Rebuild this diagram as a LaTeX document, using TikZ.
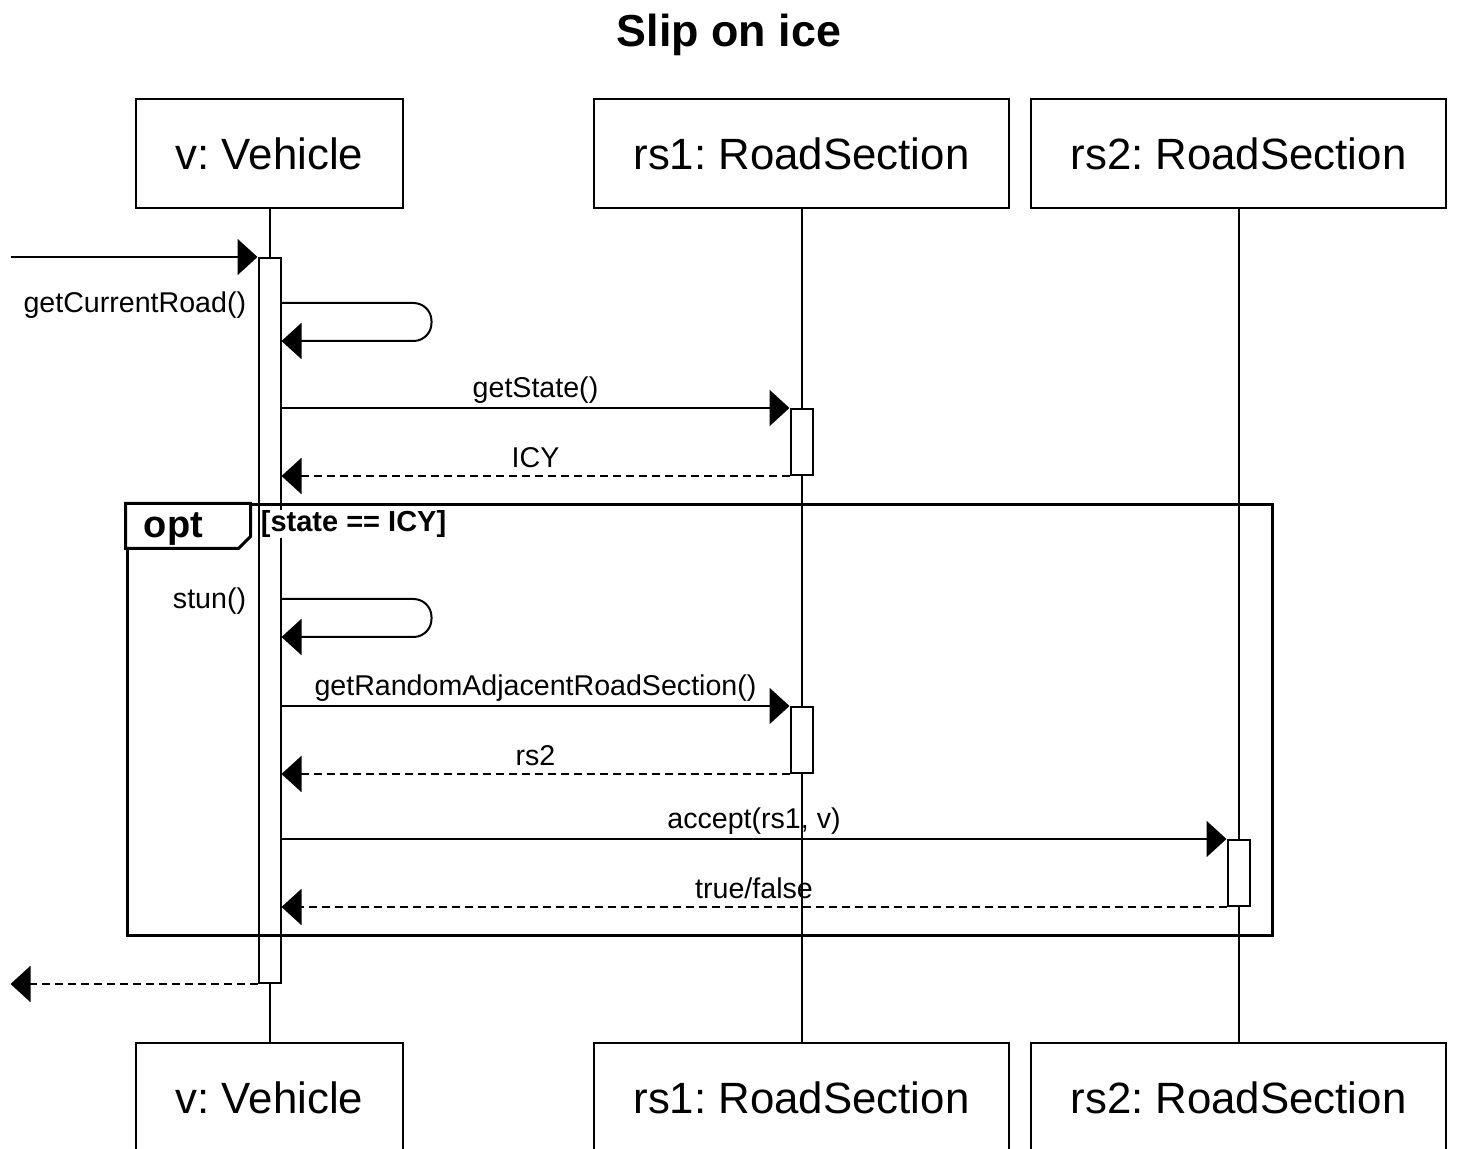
\documentclass[tikz,border=0pt]{standalone}
\usepackage{fontspec}
\setmainfont{Liberation Sans}
\frenchspacing
\usetikzlibrary{positioning, arrows.meta}

\begin{document}
\begin{tikzpicture}[x=0.5pt, y=-0.5pt,
head/.style={rectangle, draw, line width=1pt, minimum height=54.5pt, font=\fontsize{21.9}{26}\selectfont},
act/.style={rectangle, draw, fill=white, line width=1pt, minimum width=11pt, inner sep=0pt},
lbl/.style={font=\fontsize{14.3}{17}\selectfont, inner sep=2pt},
call/.style={-{Triangle[length=10pt, width=18pt]}, line width=1pt},
ret/.style={call, dash pattern=on 4pt off 2.5pt},
lifeline/.style={line width=1pt},
optframe/.style={rectangle, draw, line width=1.5pt, minimum width=572.5pt, minimum height=215.5pt}
]
\useasboundingbox (0,0) rectangle (1469,1149);
\clip (0,0) rectangle (1469,1149);

% Title
\node[font=\bfseries\fontsize{22.4}{27}\selectfont, anchor=base] (title) at (729,47) {Slip on ice};

% Top row - lifeline heads
\node[head, minimum width=133.5pt] (v) at (269.5,153.5) {v: Vehicle};
\node[head, minimum width=207.5pt, right=94.5pt of v] (rs1) {rs1: RoadSection};
\node[head, minimum width=207.5pt, right=10pt of rs1] (rs2) {rs2: RoadSection};

% Bottom row - lifeline feet
\node[head, minimum width=133.5pt, below=416.5pt of v] (vb) {v: Vehicle};
\node[head, minimum width=207.5pt, below=416.5pt of rs1] (rs1b) {rs1: RoadSection};
\node[head, minimum width=207.5pt, below=416.5pt of rs2] (rs2b) {rs2: RoadSection};

% Lifelines
\draw[lifeline] (v) -- (vb);
\draw[lifeline] (rs1) -- (rs1b);
\draw[lifeline] (rs2) -- (rs2b);

% Activations
\node[act, minimum height=362.5pt, below=24pt of v] (va) {};
\node[act, minimum height=33pt, below=99.5pt of rs1] (r1a) {};
\node[act, minimum height=33pt, below=248.5pt of rs1] (r1b) {};
\node[act, minimum height=33pt, below=315pt of rs2] (r2a) {};

% Opt fragment
\node[optframe] (opt) at (699.5,720.5) {};
\draw[line width=1.5pt, fill=white] (opt.north west) -- ++(62.5pt,0) -- ++(0,-16.5pt) -- ++(-6pt,-6pt) -- ++(-56.5pt,0) -- cycle;
\node[font=\bfseries\fontsize{19}{23}\selectfont, anchor=base west, inner sep=0pt] at ([xshift=9pt, yshift=-17pt]opt.north west) {opt};
\node[font=\bfseries\fontsize{14.5}{17}\selectfont, anchor=base west, inner sep=0pt, fill=white] at ([xshift=67.5pt, yshift=-14pt]opt.north west) {[state == ICY]};

% Found message
\path (va.north west) ++(-123.5pt,0) coordinate (start);
\draw[call] (start) -- (va.north west);

% getCurrentRoad
\coordinate (s1a) at ([yshift=-23pt]va.north east);
\coordinate (s1b) at ([yshift=-42pt]va.north east);
\draw[call, rounded corners=9pt] (s1a) -- ++(75pt,0) -- ++(0,-19pt) -- (s1b);
\node[lbl, anchor=east, inner sep=0pt] at ([xshift=-5.5pt, yshift=-24pt]va.north west) {getCurrentRoad()};

% getState / ICY
\draw[call] (va.east |- r1a.north) -- node[lbl, above] {getState()} (r1a.north west);
\draw[ret] (r1a.south west) -- node[lbl, above, yshift=1.5pt] {ICY} (va.east |- r1a.south);

% stun
\coordinate (s2a) at ([yshift=-171pt]va.north east);
\coordinate (s2b) at ([yshift=-190pt]va.north east);
\draw[call, rounded corners=9pt] (s2a) -- ++(75pt,0) -- ++(0,-19pt) -- (s2b);
\node[lbl, anchor=east, inner sep=0pt] at ([xshift=-5.5pt, yshift=-172pt]va.north west) {stun()};

% getRandomAdjacentRoadSection / rs2
\draw[call] (va.east |- r1b.north) -- node[lbl, above] {getRandomAdjacentRoadSection()} (r1b.north west);
\draw[ret] (r1b.south west) -- node[lbl, above, yshift=1.5pt] {rs2} (va.east |- r1b.south);

% accept / true/false
\draw[call] (va.east |- r2a.north) -- node[lbl, above] {accept(rs1, v)} (r2a.north west);
\draw[ret] (r2a.south west) -- node[lbl, above, yshift=1.5pt] {true/false} (va.east |- r2a.south);

% Return message
\path (va.south west) ++(-123.5pt,0) coordinate (end);
\draw[ret] (va.south west) -- (end);

\end{tikzpicture}
\end{document}
